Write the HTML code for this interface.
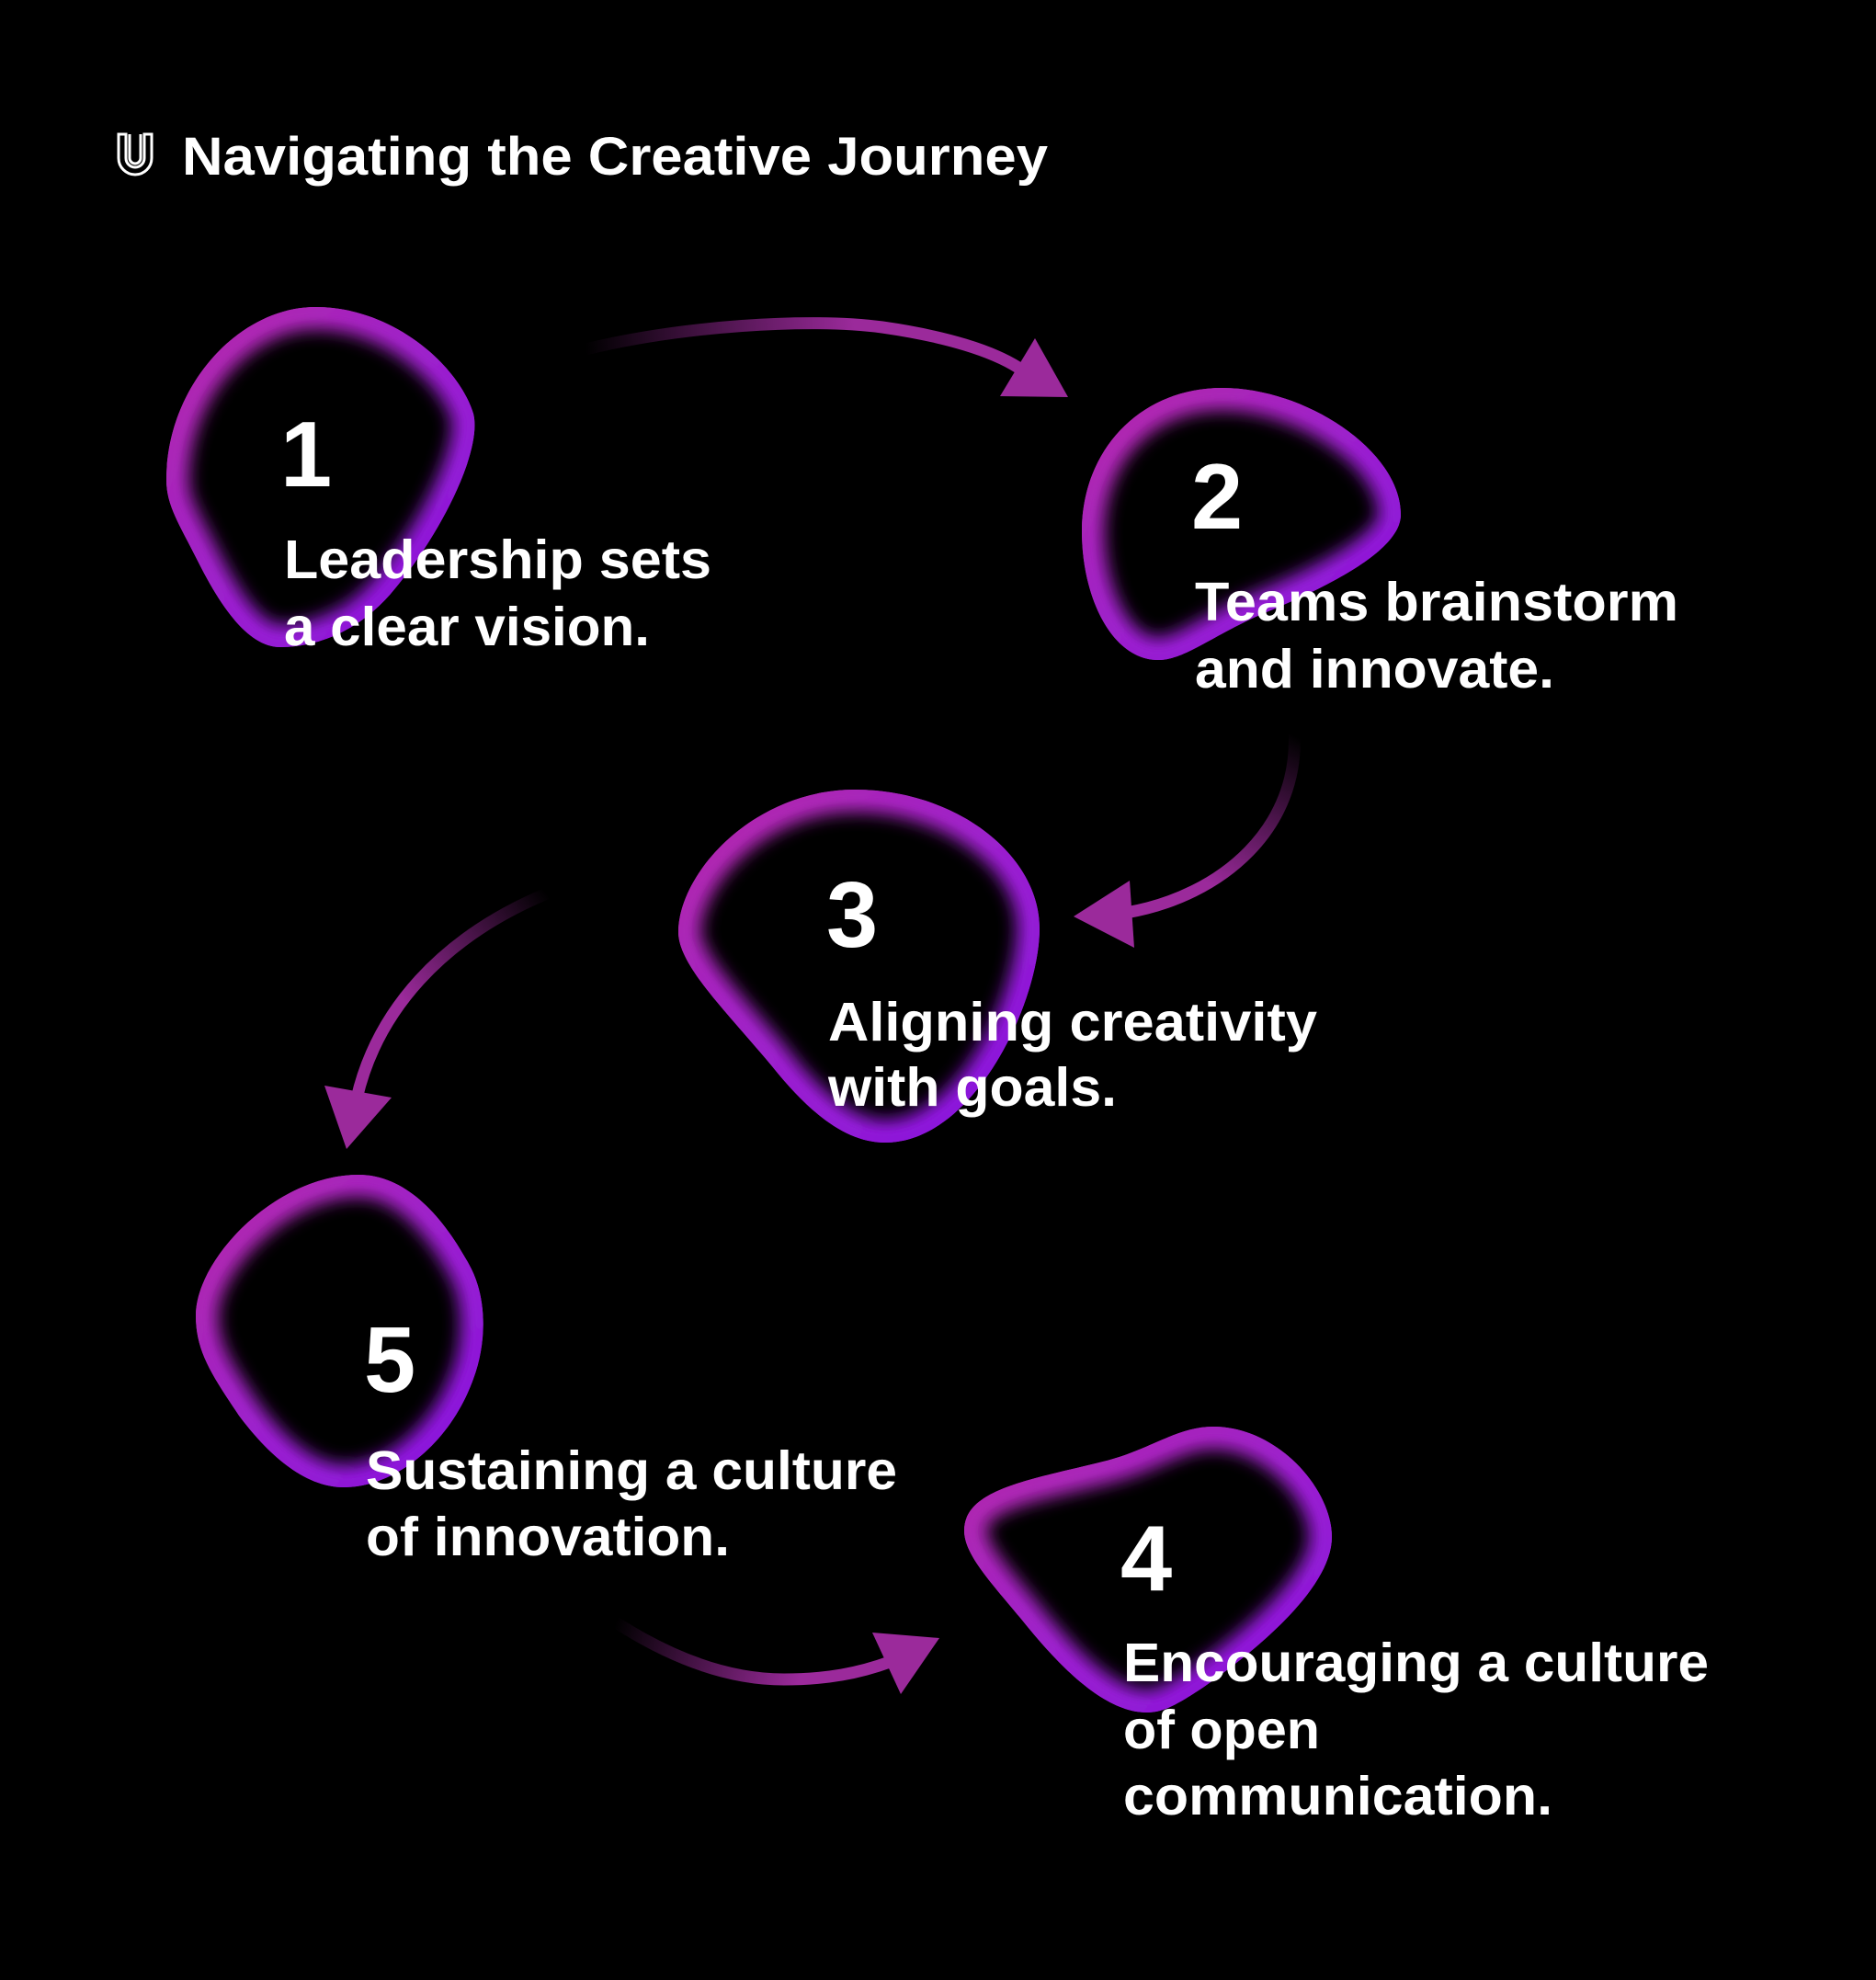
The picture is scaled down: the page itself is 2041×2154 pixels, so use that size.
<!DOCTYPE html>
<html><head><meta charset="utf-8"><style>
html,body{margin:0;padding:0;background:#000;}
svg{display:block;}
text{font-family:"Liberation Sans",Arial,sans-serif;font-weight:bold;fill:#fff;}
</style></head><body>
<svg width="2041" height="2154" viewBox="0 0 2041 2154" xmlns="http://www.w3.org/2000/svg">
<defs>
<linearGradient id="bg" x1="0" y1="0" x2="1" y2="1">
<stop offset="0" stop-color="#b52aa6"/><stop offset="0.55" stop-color="#9a1fcf"/><stop offset="1" stop-color="#8412e0"/>
</linearGradient>
<filter id="bl" x="-20%" y="-20%" width="140%" height="140%"><feGaussianBlur stdDeviation="9"/></filter>
<filter id="bs" x="-20%" y="-20%" width="140%" height="140%"><feGaussianBlur stdDeviation="3"/></filter>
<path id="p1" d="M343,334 C430,334 500,400 515,450 C525,490 480,580 430,640 C390,690 340,704 305,704 C270,704 240,660 215,610 C195,570 181,550 181,522 C181,420 260,334 343,334Z"/>
<path id="p2" d="M1330,422 C1420,422 1524,490 1524,560 C1524,600 1440,640 1380,665 C1320,690 1290,718 1260,718 C1210,718 1177,650 1177,578 C1177,490 1240,422 1330,422Z"/>
<path id="p3" d="M930,859 C1040,859 1131,930 1131,1010 C1131,1090 1060,1243 963,1243 C920,1243 880,1210 840,1160 C790,1100 738,1050 738,1014 C738,950 820,859 930,859Z"/>
<path id="p5" d="M390,1278 C440,1278 480,1320 510,1375 C530,1410 530,1460 515,1500 C490,1570 430,1618 374,1618 C330,1618 290,1580 260,1540 C230,1495 213,1470 213,1431 C213,1370 300,1278 390,1278Z"/>
<path id="p4" d="M1320,1552 C1390,1552 1449,1620 1449,1672 C1449,1730 1360,1800 1310,1835 C1280,1855 1265,1863 1248,1863 C1200,1863 1150,1810 1110,1760 C1075,1718 1049,1690 1049,1665 C1049,1620 1120,1610 1200,1590 C1250,1578 1280,1552 1320,1552Z"/>
<clipPath id="c1"><use href="#p1"/></clipPath>
<clipPath id="c2"><use href="#p2"/></clipPath>
<clipPath id="c3"><use href="#p3"/></clipPath>
<clipPath id="c4"><use href="#p4"/></clipPath>
<clipPath id="c5"><use href="#p5"/></clipPath>
<linearGradient id="a1" gradientUnits="userSpaceOnUse" x1="637" y1="380" x2="930" y2="360"><stop offset="0" stop-color="#9b2a9b" stop-opacity="0"/><stop offset="1" stop-color="#9b2a9b"/></linearGradient>
<linearGradient id="a2" gradientUnits="userSpaceOnUse" x1="1408" y1="800" x2="1320" y2="965"><stop offset="0" stop-color="#9b2a9b" stop-opacity="0"/><stop offset="1" stop-color="#9b2a9b"/></linearGradient>
<linearGradient id="a3" gradientUnits="userSpaceOnUse" x1="595" y1="972" x2="440" y2="1090"><stop offset="0" stop-color="#9b2a9b" stop-opacity="0"/><stop offset="1" stop-color="#9b2a9b"/></linearGradient>
<linearGradient id="a4" gradientUnits="userSpaceOnUse" x1="670" y1="1765" x2="870" y2="1827"><stop offset="0" stop-color="#9b2a9b" stop-opacity="0"/><stop offset="1" stop-color="#9b2a9b"/></linearGradient>
</defs>
<rect width="2041" height="2154" fill="#000"/>

<g fill="none" stroke="#fff" stroke-width="3">
<path d="M129,146 V172 A18,18 0 0 0 165,172 V146 H157 V172 A10,10 0 0 1 137,172 V146 Z"/>
<path d="M141,146 V172 A6,6 0 0 0 153,172 V146"/>
</g>
<text x="198" y="190" font-size="58" textLength="942" lengthAdjust="spacingAndGlyphs">Navigating the Creative Journey</text>

<g clip-path="url(#c1)"><use href="#p1" fill="#000"/><use href="#p1" fill="none" stroke="url(#bg)" stroke-width="50" filter="url(#bl)"/><use href="#p1" fill="none" stroke="url(#bg)" stroke-width="22" filter="url(#bs)"/></g>
<g clip-path="url(#c2)"><use href="#p2" fill="#000"/><use href="#p2" fill="none" stroke="url(#bg)" stroke-width="50" filter="url(#bl)"/><use href="#p2" fill="none" stroke="url(#bg)" stroke-width="22" filter="url(#bs)"/></g>
<g clip-path="url(#c3)"><use href="#p3" fill="#000"/><use href="#p3" fill="none" stroke="url(#bg)" stroke-width="50" filter="url(#bl)"/><use href="#p3" fill="none" stroke="url(#bg)" stroke-width="22" filter="url(#bs)"/></g>
<g clip-path="url(#c4)"><use href="#p4" fill="#000"/><use href="#p4" fill="none" stroke="url(#bg)" stroke-width="50" filter="url(#bl)"/><use href="#p4" fill="none" stroke="url(#bg)" stroke-width="22" filter="url(#bs)"/></g>
<g clip-path="url(#c5)"><use href="#p5" fill="#000"/><use href="#p5" fill="none" stroke="url(#bg)" stroke-width="50" filter="url(#bl)"/><use href="#p5" fill="none" stroke="url(#bg)" stroke-width="22" filter="url(#bs)"/></g>

<path d="M637,380 C740,355 880,345 960,356 C1030,366 1080,382 1108,400" fill="none" stroke="url(#a1)" stroke-width="13"/>
<polygon points="1126,368 1088,431 1162,432" fill="#9b2a9b"/>
<path d="M1408,794 C1415,900 1330,975 1225,993" fill="none" stroke="url(#a2)" stroke-width="13"/>
<polygon points="1168,997 1229,958 1234,1031" fill="#9b2a9b"/>
<path d="M595,972 C480,1020 410,1100 388,1195" fill="none" stroke="url(#a3)" stroke-width="13"/>
<polygon points="353,1181 426,1194 377,1250" fill="#9b2a9b"/>
<path d="M670,1765 C740,1810 800,1827 853,1827 C900,1827 935,1820 968,1808" fill="none" stroke="url(#a4)" stroke-width="13"/>
<polygon points="949,1776 1022,1782 980,1843" fill="#9b2a9b"/>

<g font-size="101">
<text x="305" y="529">1</text>
<text x="1296" y="575">2</text>
<text x="899" y="1030">3</text>
<text x="1219" y="1730">4</text>
<text x="396" y="1514">5</text>
</g>
<g font-size="59">
<text x="309" y="629" textLength="465" lengthAdjust="spacingAndGlyphs">Leadership sets</text>
<text x="309" y="702" textLength="398" lengthAdjust="spacingAndGlyphs">a clear vision.</text>
<text x="1300" y="675" textLength="526" lengthAdjust="spacingAndGlyphs">Teams brainstorm</text>
<text x="1300" y="748" textLength="391" lengthAdjust="spacingAndGlyphs">and innovate.</text>
<text x="901" y="1132" textLength="532" lengthAdjust="spacingAndGlyphs">Aligning creativity</text>
<text x="901" y="1203" textLength="314" lengthAdjust="spacingAndGlyphs">with goals.</text>
<text x="398" y="1620" textLength="578" lengthAdjust="spacingAndGlyphs">Sustaining a culture</text>
<text x="398" y="1692" textLength="396" lengthAdjust="spacingAndGlyphs">of innovation.</text>
<text x="1222" y="1829" textLength="637" lengthAdjust="spacingAndGlyphs">Encouraging a culture</text>
<text x="1222" y="1902" textLength="214" lengthAdjust="spacingAndGlyphs">of open</text>
<text x="1222" y="1974" textLength="467" lengthAdjust="spacingAndGlyphs">communication.</text>
</g>
</svg>
</body></html>
